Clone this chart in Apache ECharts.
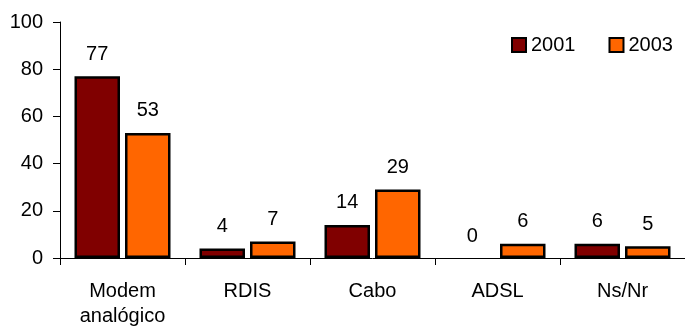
<!DOCTYPE html>
<html>
<head>
<meta charset="utf-8">
<script src="https://cdn.jsdelivr.net/npm/echarts@6/dist/echarts.min.js"></script>
<style>
  html, body { margin: 0; padding: 0; background: #fff; }
  #chart { width: 685px; height: 329px; }
</style>
</head>
<body>
<div id="chart"></div>
<script>
// Internet access type by year (%)
const categories = ['Modem\nanalógico', 'RDIS', 'Cabo', 'ADSL', 'Ns/Nr'];
const values2001 = [77, 4, 14, 0, 6];
const values2003 = [53, 7, 29, 6, 5];
const yTicks = { min: 0, max: 100, interval: 20 };

const FONT = 'Liberation Sans, Arial, sans-serif';
const FONT_SIZE = 20;

function barData(values) {
  // a zero-height bar is drawn without its outline so no line sits on the axis
  return values.map(v => v === 0 ? { value: v, itemStyle: { borderWidth: 0 } } : v);
}

function barSeries(name, color, values) {
  return {
    name: name,
    type: 'bar',
    data: barData(values),
    barWidth: 45.5,
    barGap: '11%',
    itemStyle: { color: color, borderColor: '#000', borderWidth: 2.5 },
    label: {
      show: true,
      position: 'top',
      distance: 12,
      color: '#000',
      fontFamily: FONT,
      fontSize: FONT_SIZE
    }
  };
}

const chart = echarts.init(document.getElementById('chart'), null, { renderer: 'canvas' });
chart.setOption({
  animation: false,
  backgroundColor: '#fff',
  grid: { left: 60, top: 22, width: 631, height: 241, containLabel: false },
  legend: {
    left: 506,
    top: 30,
    itemWidth: 14,
    itemHeight: 14,
    itemGap: 33,
    icon: 'rect',
    textStyle: { color: '#000', fontFamily: FONT, fontSize: FONT_SIZE },
    data: ['2001', '2003']
  },
  xAxis: {
    type: 'category',
    data: categories,
    axisLine: { lineStyle: { color: '#000', width: 1 } },
    axisTick: { show: true, length: 7, lineStyle: { color: '#000' } },
    axisLabel: {
      color: '#000',
      fontFamily: FONT,
      fontSize: FONT_SIZE,
      lineHeight: 25,
      margin: 21,
      interval: 0
    }
  },
  yAxis: {
    type: 'value',
    min: yTicks.min,
    max: yTicks.max,
    interval: yTicks.interval,
    splitLine: { show: false },
    axisLine: { show: true, lineStyle: { color: '#000', width: 1 } },
    axisTick: { show: true, length: 7, lineStyle: { color: '#000' } },
    axisLabel: { color: '#000', fontFamily: FONT, fontSize: FONT_SIZE, margin: 17 }
  },
  series: [
    barSeries('2001', '#800000', values2001),
    barSeries('2003', '#FF6600', values2003)
  ]
});
</script>
</body>
</html>
